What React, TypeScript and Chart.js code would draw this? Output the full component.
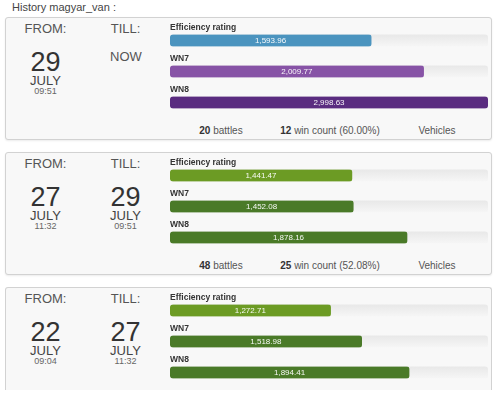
import React, { useEffect, useRef } from "react";
import { Chart, registerables } from "chart.js";

Chart.register(...registerables);

// ---- data ----
const PLAYER = "magyar_van";
const RATING_LABELS = ["Efficiency rating", "WN7", "WN8"];
const ER_VALUES = [1593.96, 1441.47, 1272.71];
const WN7_VALUES = [2009.77, 1452.08, 1518.98];
const WN8_VALUES = [2998.63, 1878.16, 1894.41];
const FROM_DAYS = ["29", "27", "22"];
const FROM_MONTHS = ["JULY", "JULY", "JULY"];
const FROM_TIMES = ["09:51", "11:32", "09:04"];
const TILL_DAYS = ["NOW", "29", "27"];
const TILL_MONTHS = ["", "JULY", "JULY"];
const TILL_TIMES = ["", "09:51", "11:32"];
const BATTLES = [20, 48, null];
const WINS = [12, 25, null];
const WIN_PCT = ["60.00%", "52.08%", ""];
const SCALE_MAX = 2520;

const PANEL_COLORS = [
  ["#4b94bf", "#8753a6", "#5a2c80"],
  ["#6c9b24", "#4a7a28", "#4a7a28"],
  ["#6c9b24", "#4a7a28", "#4a7a28"],
];

const FONT = "'Liberation Sans', Arial, sans-serif";
const BAR_H = 12;

const fmt = (v: number) =>
  v.toLocaleString("en-US", { minimumFractionDigits: 2, maximumFractionDigits: 2 });

const barPlugin = {
  id: "progressDecor",
  beforeDatasetsDraw(chart: any) {
    const { ctx, chartArea } = chart;
    const meta = chart.getDatasetMeta(0);
    const w = chartArea.right - chartArea.left;
    meta.data.forEach((bar: any) => {
      const y = bar.y - BAR_H / 2;
      const g = ctx.createLinearGradient(0, y, 0, y + BAR_H);
      g.addColorStop(0, "#e8e8e8");
      g.addColorStop(1, "#f6f6f6");
      ctx.save();
      ctx.fillStyle = g;
      ctx.beginPath();
      ctx.roundRect(chartArea.left, y, w, BAR_H, 3);
      ctx.fill();
      ctx.restore();
    });
    // rounded clip so bars beyond the scale keep rounded ends
    ctx.save();
    ctx.beginPath();
    meta.data.forEach((bar: any) => {
      ctx.roundRect(chartArea.left, bar.y - BAR_H / 2, w, BAR_H, 3);
    });
    ctx.clip();
  },
  afterDatasetsDraw(chart: any) {
    const { ctx, chartArea } = chart;
    ctx.restore();
    const meta = chart.getDatasetMeta(0);
    const data = chart.data.datasets[0].data;
    ctx.save();
    meta.data.forEach((bar: any, i: number) => {
      ctx.font = `bold 8.5px ${FONT}`;
      ctx.fillStyle = "#333";
      ctx.textAlign = "left";
      ctx.textBaseline = "middle";
      ctx.fillText(chart.data.labels[i], chartArea.left, bar.y - 12.5);
      const right = Math.min(bar.x, chartArea.right);
      const cx = (bar.base + right) / 2;
      ctx.font = `8px ${FONT}`;
      ctx.fillStyle = "rgba(255,255,255,0.95)";
      ctx.textAlign = "center";
      ctx.fillText(fmt(data[i]), cx, bar.y + 0.5);
    });
    ctx.restore();
  },
};

function BarPanel({ idx, top }: { idx: number; top: number }) {
  const ref = useRef<HTMLCanvasElement | null>(null);
  useEffect(() => {
    if (!ref.current) return;
    const chart = new Chart(ref.current, {
      type: "bar",
      data: {
        labels: RATING_LABELS,
        datasets: [
          {
            data: [ER_VALUES[idx], WN7_VALUES[idx], WN8_VALUES[idx]],
            backgroundColor: PANEL_COLORS[idx],
            borderRadius: 3,
            borderSkipped: false,
            barThickness: BAR_H,
            clip: false,
          },
        ],
      },
      options: {
        indexAxis: "y",
        animation: false,
        responsive: false,
        maintainAspectRatio: false,
        layout: { padding: { top: 4, bottom: 0, left: 0, right: 0 } },
        plugins: { legend: { display: false }, tooltip: { enabled: false } },
        scales: {
          x: { display: false, min: 0, max: SCALE_MAX },
          y: { display: false },
        },
      },
      plugins: [barPlugin],
    } as any);
    return () => chart.destroy();
  }, [idx]);
  return (
    <canvas
      ref={ref}
      width={318}
      height={97}
      style={{ position: "absolute", left: 170, top: top + 4, width: 318, height: 97 }}
    />
  );
}

function Txt({
  x,
  y,
  size,
  color = "#333",
  children,
  weight = "normal",
}: {
  x: number;
  y: number;
  size: number;
  color?: string;
  children: React.ReactNode;
  weight?: string;
}) {
  return (
    <div
      style={{
        position: "absolute",
        left: x,
        top: y,
        transform: "translate(-50%, -50%)",
        fontSize: size,
        lineHeight: 1,
        color,
        fontWeight: weight as any,
        whiteSpace: "nowrap",
      }}
    >
      {children}
    </div>
  );
}

function Panel({ idx }: { idx: number }) {
  const top = 17 + 135 * idx;
  const last = idx === 2;
  return (
    <>
      <div
        style={{
          position: "absolute",
          left: 5,
          top,
          width: 485,
          height: last ? 102 : 121,
          border: "1px solid #d2d2d2",
          borderBottom: last ? "none" : "1px solid #d2d2d2",
          borderRadius: last ? "3px 3px 0 0" : 3,
          background: "#f8f8f8",
          boxShadow: last ? "none" : "0 1px 2px rgba(0,0,0,0.08)",
        }}
      />
      <Txt x={45.5} y={top + 11} size={13} color="#555">FROM:</Txt>
      <Txt x={125.5} y={top + 11} size={13} color="#555">TILL:</Txt>
      <Txt x={45.5} y={top + 45} size={27} color="#333">{FROM_DAYS[idx]}</Txt>
      <Txt x={45.5} y={top + 63} size={13} color="#444">{FROM_MONTHS[idx]}</Txt>
      <Txt x={45.5} y={top + 74} size={9} color="#666">{FROM_TIMES[idx]}</Txt>
      {TILL_MONTHS[idx] ? (
        <>
          <Txt x={125.5} y={top + 45} size={27} color="#333">{TILL_DAYS[idx]}</Txt>
          <Txt x={125.5} y={top + 63} size={13} color="#444">{TILL_MONTHS[idx]}</Txt>
          <Txt x={125.5} y={top + 74} size={9} color="#666">{TILL_TIMES[idx]}</Txt>
        </>
      ) : (
        <Txt x={126} y={top + 39} size={13} color="#555">{TILL_DAYS[idx]}</Txt>
      )}
      <BarPanel idx={idx} top={top} />
      {BATTLES[idx] !== null && (
        <>
          <Txt x={221} y={top + 114} size={10} color="#555">
            <b style={{ color: "#333" }}>{BATTLES[idx]}</b> battles
          </Txt>
          <Txt x={330} y={top + 114} size={10} color="#555">
            <b style={{ color: "#333" }}>{WINS[idx]}</b> win count ({WIN_PCT[idx]})
          </Txt>
          <Txt x={437} y={top + 114} size={10} color="#555">Vehicles</Txt>
        </>
      )}
    </>
  );
}

export default function App() {
  return (
    <div
      style={{
        position: "fixed",
        left: 0,
        top: 0,
        width: 500,
        height: 394,
        overflow: "hidden",
        background: "#fff",
        fontFamily: FONT,
      }}
    >
      <div
        style={{
          position: "absolute",
          left: 12,
          top: 1,
          fontSize: 11,
          lineHeight: "12px",
          color: "#444",
          whiteSpace: "nowrap",
        }}
      >
        History {PLAYER} :
      </div>
      {[0, 1, 2].map((i) => (
        <Panel key={i} idx={i} />
      ))}
    </div>
  );
}
